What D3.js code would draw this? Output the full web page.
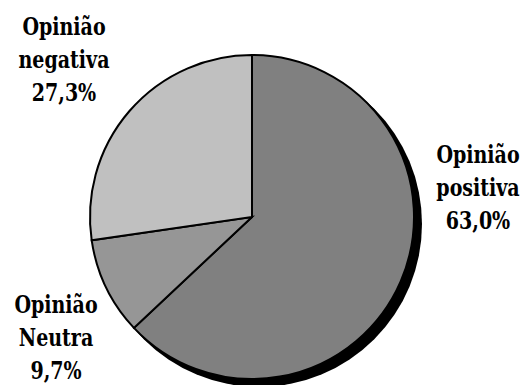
<!DOCTYPE html>
<html>
<head>
<meta charset="utf-8">
<script src="https://cdn.jsdelivr.net/npm/d3@7"></script>
<style>
  body { margin: 0; background: #fff; }
  svg { display: block; }
  .label { font-family: "DejaVu Serif Condensed", "DejaVu Serif", serif; font-stretch: condensed; font-weight: bold; font-size: 23.5px; }
</style>
</head>
<body>
<div id="chart"></div>
<script>
var categories = ["Opinião positiva", "Opinião Neutra", "Opinião negativa"];
var labelLines = [["Opinião", "positiva"], ["Opinião", "Neutra"], ["Opinião", "negativa"]];
var values = [63.0, 9.7, 27.3];
var colors = ["#808080", "#969696", "#c0c0c0"];

var width = 524, height = 385;
var center = {x: 252, y: 217};
var radius = 162;
var shadowOffset = {x: 7, y: 7};
var lineHeight = 33;
// where each label block sits (center x, first baseline)
var labelAnchors = [{x: 478, y: 163}, {x: 56, y: 313}, {x: 64, y: 35}];
var labelSqueeze = 0.9; // serif fallback runs wider than the original face

var locale = d3.formatLocale({decimal: ",", thousands: ".", grouping: [3], currency: ["", ""]});
var fmt = locale.format(".1f");

var svg = d3.select("#chart")
	.append("svg")
	.attr("width", width)
	.attr("height", height);

var pie = d3.pie()
	.sort(null)
	.value(function(d) { return d; });

var arc = d3.arc()
	.innerRadius(0)
	.outerRadius(radius);

var arcs = pie(values);

// drop shadow
svg.append("circle")
	.attr("cx", center.x + shadowOffset.x)
	.attr("cy", center.y + shadowOffset.y)
	.attr("r", radius + 1)
	.attr("fill", "#000");

var g = svg.append("g")
	.attr("transform", "translate(" + center.x + "," + center.y + ")");

g.selectAll(".slice")
	.data(arcs)
	.enter().append("path")
	.attr("class", "slice")
	.attr("d", arc)
	.attr("fill", function(d, i) { return colors[i]; })
	.attr("stroke", "#000")
	.attr("stroke-width", 2);

var labels = svg.selectAll(".label")
	.data(arcs)
	.enter().append("text")
	.attr("class", "label")
	.attr("text-anchor", "middle")
	.attr("fill", "#000")
	.attr("transform", function(d, i) {
		return "translate(" + labelAnchors[i].x + "," + labelAnchors[i].y + ") scale(" + labelSqueeze + ",1)";
	});

labels.each(function(d, i) {
	var t = d3.select(this);
	var lines = labelLines[i].concat([fmt(d.data) + "%"]);
	lines.forEach(function(line, j) {
		t.append("tspan")
			.attr("x", 0)
			.attr("y", j * lineHeight)
			.text(line);
	});
});
</script>
</body>
</html>
